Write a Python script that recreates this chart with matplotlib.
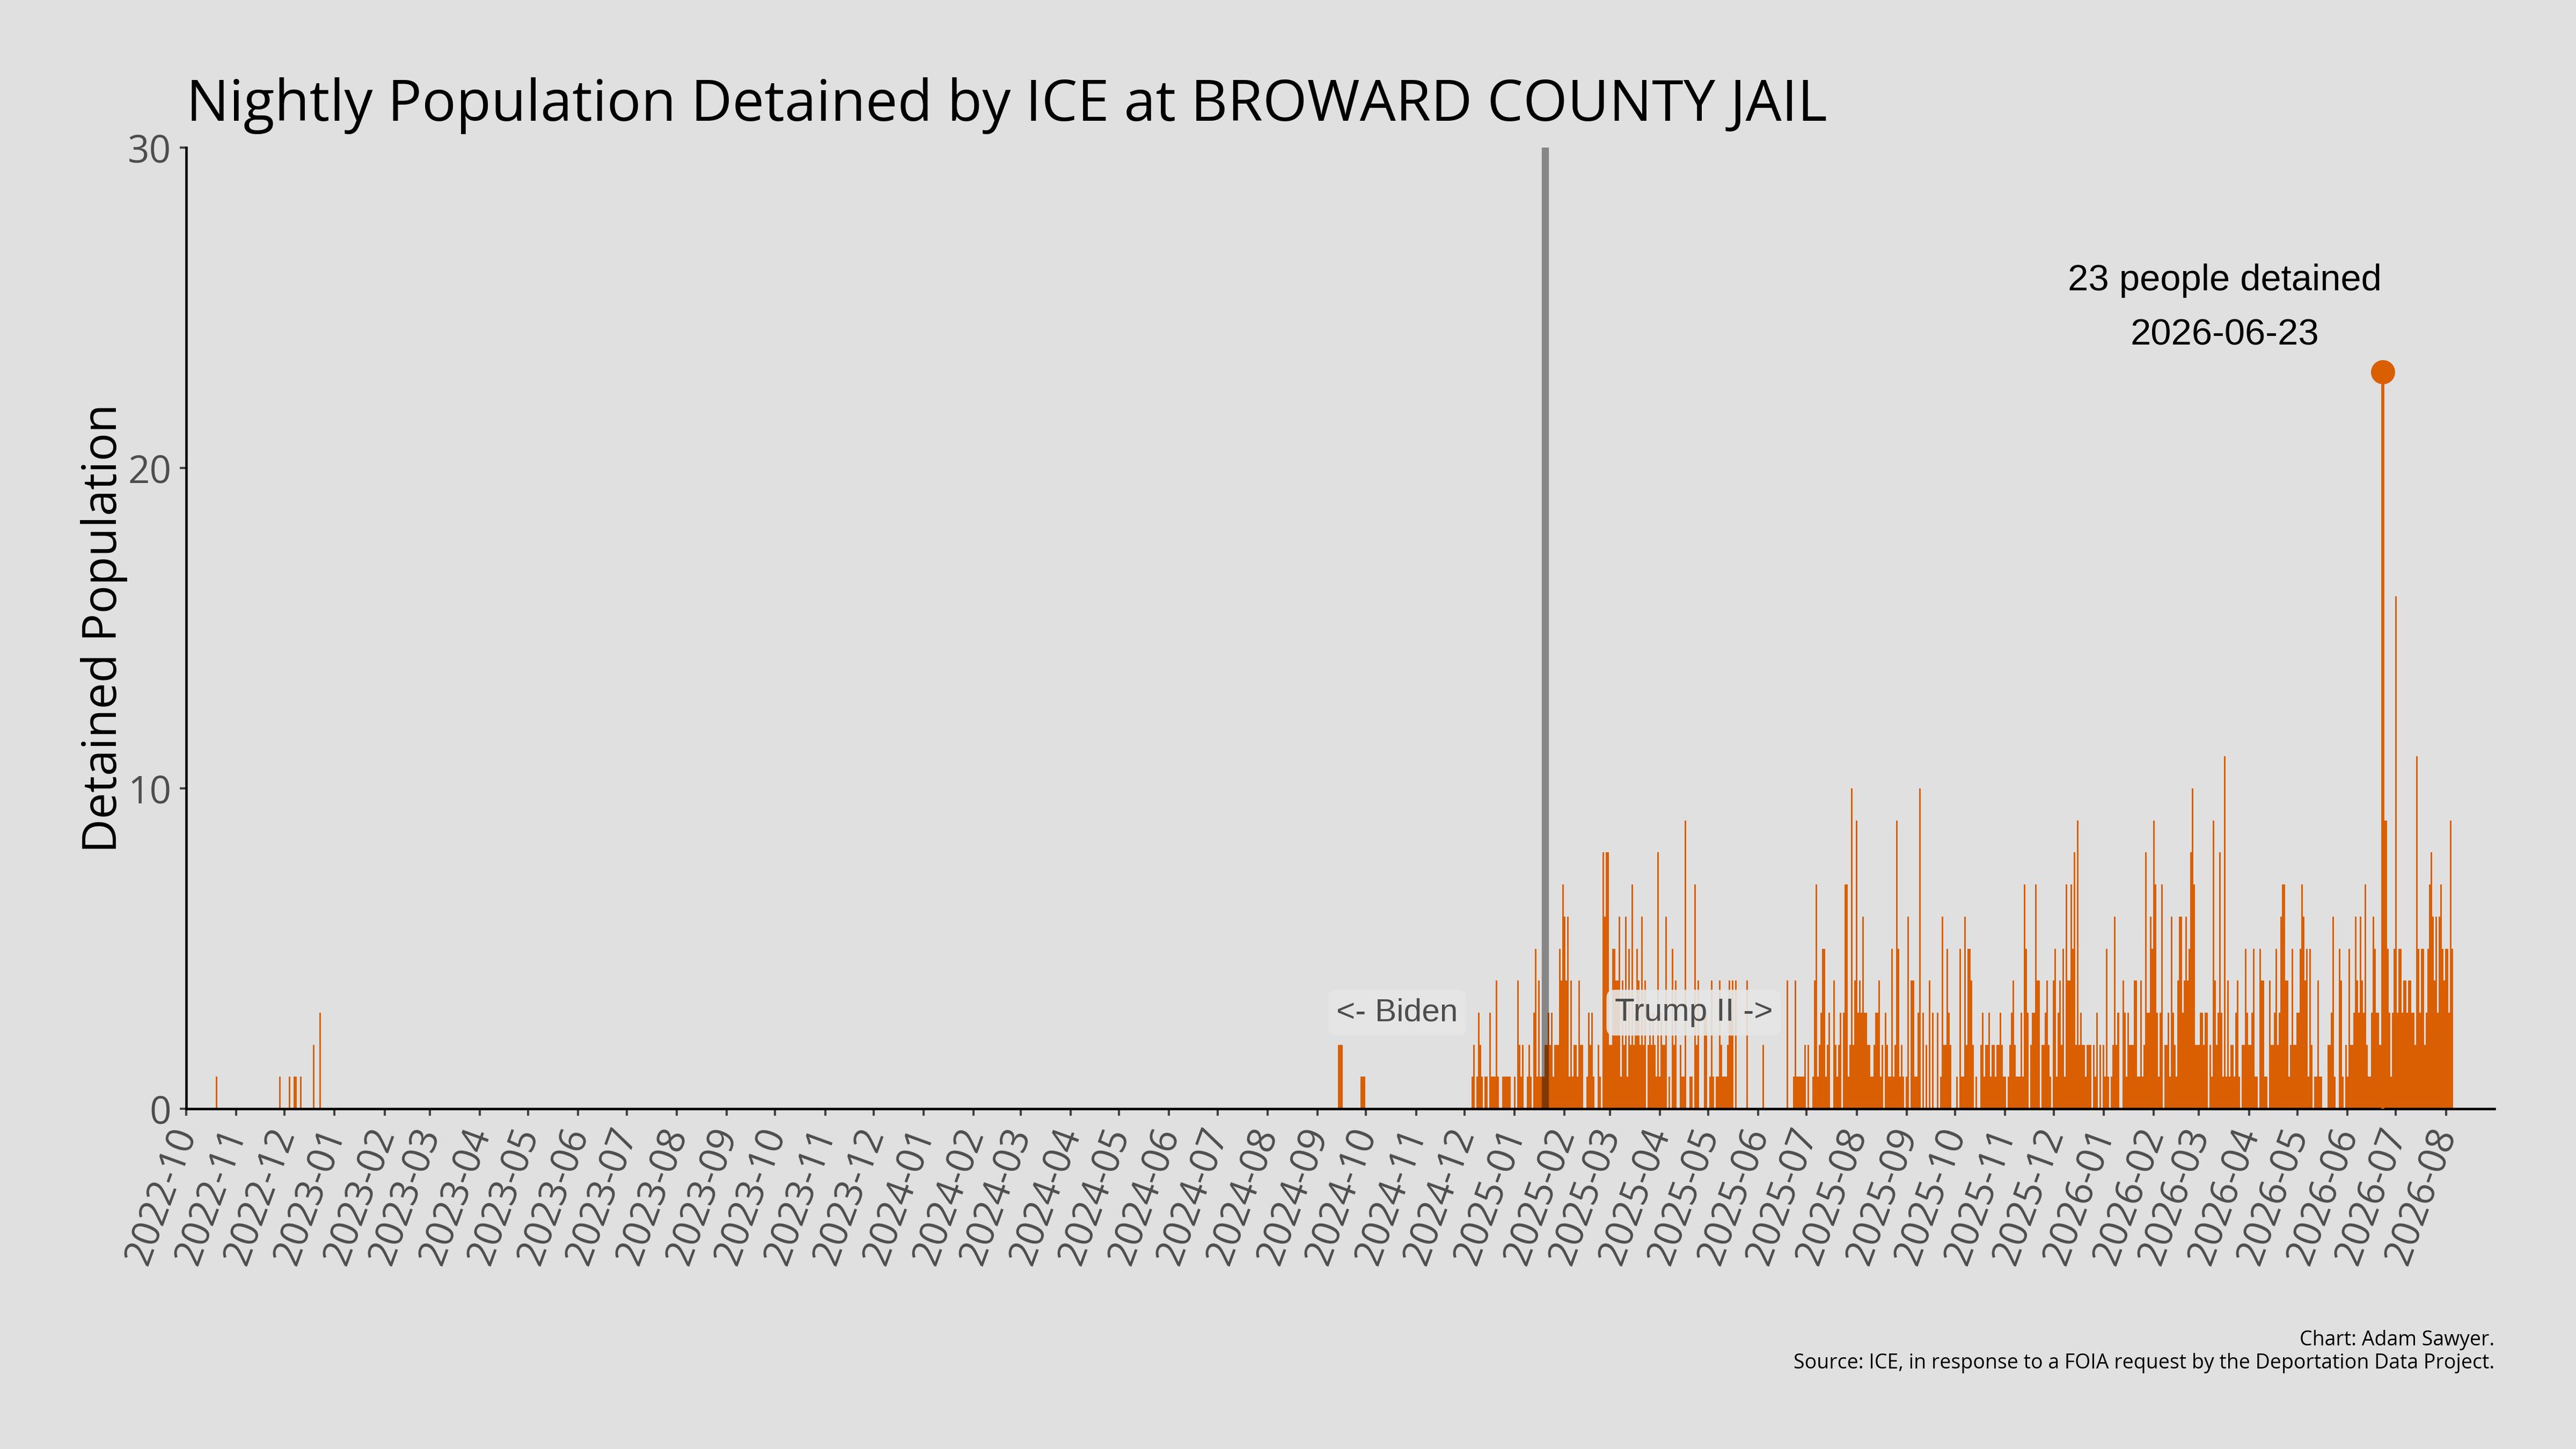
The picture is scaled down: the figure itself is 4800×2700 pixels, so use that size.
import matplotlib
matplotlib.use("Agg")
import matplotlib.pyplot as plt
import matplotlib.dates as mdates
import numpy as np
import pandas as pd

# nights before the daily series gets going
early_dates = ["2022-10-20", "2022-11-28", "2022-12-04", "2022-12-07", "2022-12-08",
               "2022-12-11", "2022-12-19", "2022-12-23",
               "2024-09-14", "2024-09-15", "2024-09-16",
               "2024-09-28", "2024-09-29", "2024-09-30"]
early_counts = [1, 1, 1, 1, 1, 1, 2, 3, 2, 2, 2, 1, 1, 1]

# daily counts, one list per month (first value = the 1st of the month)
m_2024_12 = [0,0,0,0,0,1,2,0,1,3,2,1,0,1,1,0,3,1,1,1,4,1,0,0,1,1,1,1,1,0,0]
m_2025_01 = [1,0,4,2,1,2,0,0,1,2,1,0,3,5,1,4,1,1,1,2,2,3,2,3,1,2,2,2,5,4,7]
m_2025_02 = [6,4,6,1,4,1,2,2,1,4,2,2,0,0,1,3,2,3,1,0,0,2,1,0,8,6,8,8]
m_2025_03 = [2,2,5,5,4,4,6,1,4,2,6,1,5,2,7,2,3,5,4,2,6,2,4,0,2,3,2,3,2,1,8]
m_2025_04 = [1,3,2,2,6,0,1,0,5,2,4,0,0,2,1,1,9,0,0,1,1,0,7,2,4,0,0,0,3,3]
m_2025_05 = [0,1,4,1,0,1,1,4,2,1,1,1,2,4,3,4,0,4,0,0,0,0,0,0,4,0,0,0,0,0,0]
m_2025_06 = [0,0,0,2,0,0,0,0,0,0,0,0,0,0,0,0,0,0,4,0,0,0,1,4,1,1,1,1,1,2]
m_2025_07 = [0,2,0,0,1,4,7,1,2,3,5,5,1,2,3,0,0,4,2,1,2,3,0,3,7,7,1,2,10,2,4]
m_2025_08 = [9,3,4,3,6,3,3,2,2,1,1,2,3,3,4,1,2,0,3,2,1,1,5,1,2,9,5,1,2,1,0]
m_2025_09 = [1,6,0,4,4,1,1,3,10,0,3,0,2,0,4,0,3,0,0,3,0,1,6,2,2,5,3,2,0,0]
m_2025_10 = [0,1,0,5,1,1,6,2,5,5,4,2,0,1,0,0,2,3,1,2,2,3,1,2,2,1,2,2,3,2,1]
m_2025_11 = [1,0,1,2,3,4,2,1,1,1,3,1,7,5,3,0,2,3,3,7,4,4,0,2,2,3,4,2,1,0]
m_2025_12 = [4,5,1,3,4,2,5,1,7,4,4,7,5,8,2,9,2,3,2,2,1,2,2,2,0,2,1,3,0,2,0]
m_2026_01 = [2,1,5,1,0,1,2,6,2,3,0,0,4,3,1,3,2,2,2,4,4,1,1,4,1,2,8,3,3,6,5]
m_2026_02 = [9,7,3,1,3,7,0,2,2,3,1,6,3,2,1,4,6,6,3,4,6,4,5,8,10,7,2,2]
m_2026_03 = [2,3,3,2,3,3,0,2,1,9,4,2,3,8,3,1,11,1,4,1,2,2,1,3,4,1,0,2,2,5,3]
m_2026_04 = [2,2,3,5,1,1,0,5,4,4,1,1,0,4,2,2,3,5,2,3,6,7,7,4,4,1,2,5,2,2]
m_2026_05 = [3,3,5,7,6,4,5,1,5,2,0,1,1,4,1,1,0,0,0,2,2,3,6,1,0,0,5,4,1,0,2]
m_2026_06 = [1,5,2,2,3,6,4,3,6,4,3,7,2,1,1,3,6,5,3,3,2,2,23,9,9,5,3,1,3,5]
m_2026_07 = [16,3,5,5,3,4,4,3,4,4,3,3,2,11,5,3,5,5,2,3,5,7,8,6,4,6,3,6,7,5,4]
m_2026_08 = [5,5,3,9,5]

month_starts = ["2024-12", "2025-01", "2025-02", "2025-03", "2025-04", "2025-05",
                "2025-06", "2025-07", "2025-08", "2025-09", "2025-10", "2025-11",
                "2025-12", "2026-01", "2026-02", "2026-03", "2026-04", "2026-05",
                "2026-06", "2026-07", "2026-08"]
month_counts = [m_2024_12, m_2025_01, m_2025_02, m_2025_03, m_2025_04, m_2025_05,
                m_2025_06, m_2025_07, m_2025_08, m_2025_09, m_2025_10, m_2025_11,
                m_2025_12, m_2026_01, m_2026_02, m_2026_03, m_2026_04, m_2026_05,
                m_2026_06, m_2026_07, m_2026_08]

inauguration = "2025-01-20"
facility = "BROWARD COUNTY JAIL"

bar_color = "#d95f02"
bg_color = "#e0e0e0"
grey_text = "#4d4d4d"

# put the series together
dates = list(pd.to_datetime(early_dates))
counts = list(early_counts)
for start, vals in zip(month_starts, month_counts):
    dates += list(pd.date_range(start + "-01", periods=len(vals), freq="D"))
    counts += vals
dates = pd.DatetimeIndex(dates)
counts = np.array(counts)

peak_i = int(np.argmax(counts))
peak_date = dates[peak_i]
peak_val = counts[peak_i]

fig = plt.figure(figsize=(16, 9), dpi=300, facecolor=bg_color)
ax = fig.add_axes([0.0722, 0.2348, 0.8961, 0.6633])
ax.set_facecolor(bg_color)

ax.bar(dates, counts, width=1.0, color=bar_color, linewidth=0, zorder=2)

# lollipop on the busiest night
ax.vlines(peak_date, 0, peak_val, color=bar_color, linewidth=1.4, zorder=3)
ax.plot([peak_date], [peak_val], "o", color=bar_color, markersize=9.8, zorder=4)
ax.text(peak_date - pd.Timedelta(days=98), 25.0,
        f"{peak_val} people detained\n{peak_date:%Y-%m-%d}",
        ha="center", va="center", fontsize=16.5, linespacing=1.75,
        family="Liberation Sans", color="black", zorder=5)

# administration change
inaug = pd.Timestamp(inauguration)
ax.axvline(inaug, color="black", alpha=0.4, linewidth=3.2, zorder=4)
box = dict(boxstyle="round,pad=0.25", facecolor="#e6e6e6", edgecolor="none", alpha=0.9)
ax.text(inaug - pd.Timedelta(days=54), 3.0, "<- Biden", ha="right", va="center",
        fontsize=14.5, family="Liberation Sans", color=grey_text, bbox=box, zorder=5)
ax.text(inaug + pd.Timedelta(days=43), 3.0, "Trump II ->", ha="left", va="center",
        fontsize=14.5, family="Liberation Sans", color=grey_text, bbox=box, zorder=5)

ax.set_xlim(pd.Timestamp("2022-10-01"), pd.Timestamp("2026-08-31"))
ax.set_ylim(0, 30)
ax.set_yticks([0, 10, 20, 30])
ax.xaxis.set_major_locator(mdates.MonthLocator())
ax.xaxis.set_major_formatter(mdates.DateFormatter("%Y-%m"))

for s in ["top", "right"]:
    ax.spines[s].set_visible(False)
for s in ["left", "bottom"]:
    ax.spines[s].set_color("black")
    ax.spines[s].set_linewidth(1.1)

ax.tick_params(axis="both", colors="#444444", labelcolor=grey_text, length=3, width=1)
ax.tick_params(axis="y", labelsize=17)
ax.tick_params(axis="x", labelsize=17, pad=6)
for lab in ax.get_xticklabels():
    lab.set_rotation(70)
    lab.set_ha("right")
    lab.set_va("center")
    lab.set_rotation_mode("anchor")
    lab.set_family("Open Sans")
for lab in ax.get_yticklabels():
    lab.set_family("Open Sans")

ax.set_ylabel("Detained Population", fontsize=21, family="Open Sans", color="black", labelpad=0)
ax.set_title(f"Nightly Population Detained by ICE at {facility}", loc="left",
             fontsize=25.5, family="Open Sans", color="black", pad=12)

fig.text(0.9683, 0.0752, "Chart: Adam Sawyer.", ha="right", va="center",
         fontsize=9, family="Open Sans", color="black")
fig.text(0.9683, 0.0593,
         "Source: ICE, in response to a FOIA request by the Deportation Data Project.",
         ha="right", va="center", fontsize=9, family="Open Sans", color="black")

fig.savefig("out.png", dpi=300, facecolor=bg_color)
